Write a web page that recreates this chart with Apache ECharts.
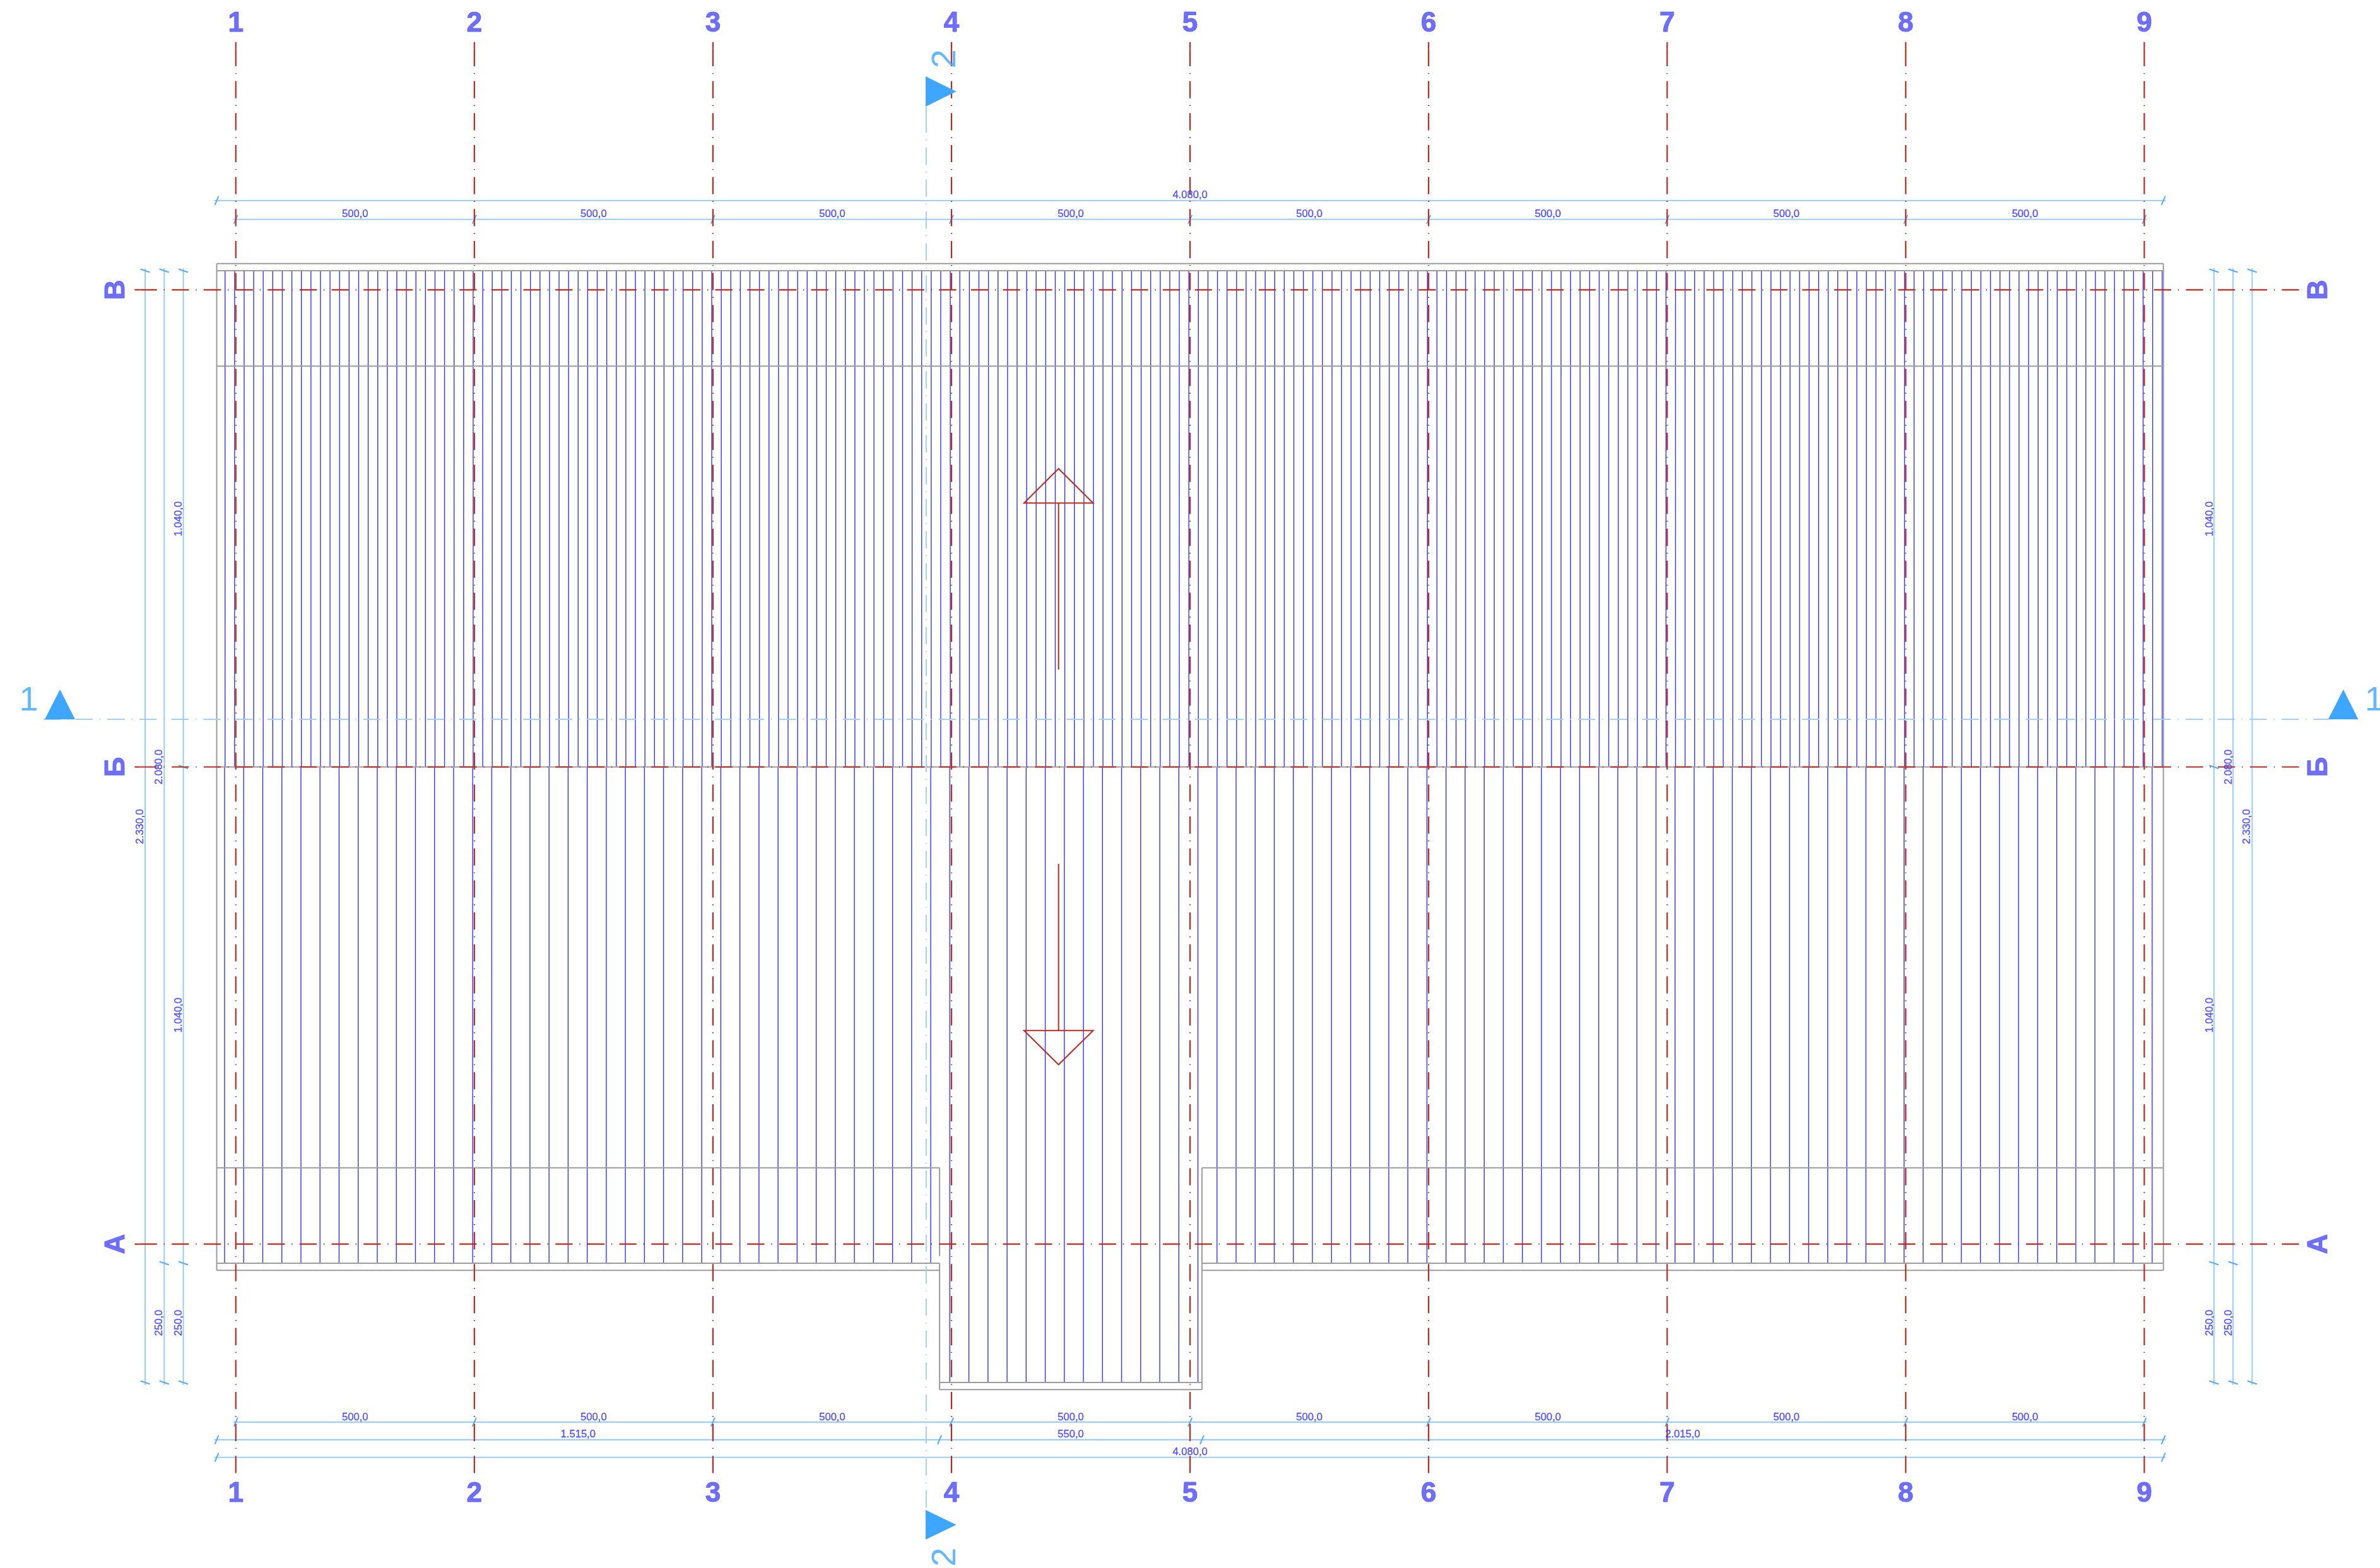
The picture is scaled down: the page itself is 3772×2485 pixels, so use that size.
<!DOCTYPE html>
<html>
<head>
<meta charset="utf-8">
<style>html,body{margin:0;padding:0;background:#fff}#c{width:3772px;height:2485px}</style>
<script src="https://cdn.jsdelivr.net/npm/echarts@6/dist/echarts.min.js"></script>
</head>
<body>
<div id="c"></div>
<script>
// ---- drawing extents (units of the drawing) ----
const xRange = [-494.2, 4494];
const yRange = [-678.8, 2607.4];

// ---- axes of the building ----
const gridX = [0, 500, 1000, 1500, 2000, 2500, 3000, 3500, 4000];
const gridXLabels = ['1', '2', '3', '4', '5', '6', '7', '8', '9'];
const gridY = [2000, 1000, 0];
const gridYLabels = ['В', 'Б', 'А'];

// ---- rafters ----
const upperRafters = [-22.5,-2.5,17.5,37.5,57.5,77.5,97.5,117.5,137.5,157.5,177.5,197.5,217.5,237.5,257.5,277.5,297.5,317.5,337.5,357.5,377.5,397.5,417.5,437.5,457.5,477.5,497.5,517.5,537.5,557.5,577.5,597.5,617.5,637.5,657.5,677.5,697.5,717.5,737.5,757.5,777.5,797.5,817.5,837.5,857.5,877.5,897.5,917.5,937.5,957.5,977.5,997.5,1017.5,1037.5,1057.5,1077.5,1097.5,1117.5,1137.5,1157.5,1177.5,1197.5,1217.5,1237.5,1257.5,1277.5,1297.5,1317.5,1337.5,1357.5,1377.5,1397.5,1417.5,1437.5,1457.5,1477.5,1497.5,1517.5,1537.5,1557.5,1577.5,1597.5,1617.5,1637.5,1657.5,1677.5,1697.5,1717.5,1737.5,1757.5,1777.5,1797.5,1817.5,1837.5,1857.5,1877.5,1897.5,1917.5,1937.5,1957.5,1977.5,1997.5,2017.5,2037.5,2057.5,2077.5,2097.5,2117.5,2137.5,2157.5,2177.5,2197.5,2217.5,2237.5,2257.5,2277.5,2297.5,2317.5,2337.5,2357.5,2377.5,2397.5,2417.5,2437.5,2457.5,2477.5,2497.5,2517.5,2537.5,2557.5,2577.5,2597.5,2617.5,2637.5,2657.5,2677.5,2697.5,2717.5,2737.5,2757.5,2777.5,2797.5,2817.5,2837.5,2857.5,2877.5,2897.5,2917.5,2937.5,2957.5,2977.5,2997.5,3017.5,3037.5,3057.5,3077.5,3097.5,3117.5,3137.5,3157.5,3177.5,3197.5,3217.5,3237.5,3257.5,3277.5,3297.5,3317.5,3337.5,3357.5,3377.5,3397.5,3417.5,3437.5,3457.5,3477.5,3497.5,3517.5,3537.5,3557.5,3577.5,3597.5,3617.5,3637.5,3657.5,3677.5,3697.5,3717.5,3737.5,3757.5,3777.5,3797.5,3817.5,3837.5,3857.5,3877.5,3897.5,3917.5,3937.5,3957.5,3977.5,3997.5,4017.5,4037.5];
const lowerRafters = [-23.5,16.5,56.5,96.5,136.5,176.5,216.5,256.5,296.5,336.5,376.5,416.5,456.5,496.5,536.5,576.5,616.5,656.5,696.5,736.5,776.5,816.5,856.5,896.5,936.5,976.5,1016.5,1056.5,1096.5,1136.5,1176.5,1216.5,1256.5,1296.5,1336.5,1376.5,1416.5,1456.5,2056.5,2096.5,2136.5,2176.5,2216.5,2256.5,2296.5,2336.5,2376.5,2416.5,2456.5,2496.5,2536.5,2576.5,2616.5,2656.5,2696.5,2736.5,2776.5,2816.5,2856.5,2896.5,2936.5,2976.5,3016.5,3056.5,3096.5,3136.5,3176.5,3216.5,3256.5,3296.5,3336.5,3376.5,3416.5,3456.5,3496.5,3536.5,3576.5,3616.5,3656.5,3696.5,3736.5,3776.5,3816.5,3856.5,3896.5,3936.5,3976.5,4016.5];
const bayRafters = [1496.5,1536.5,1576.5,1616.5,1656.5,1696.5,1736.5,1776.5,1816.5,1856.5,1896.5,1936.5,1976.5,2016.5];

// ---- outline of the roof: [x1, y1, x2, y2] ----
const outline = [
  [-40,2055,4040,2055],[-40,2040,4040,2040],[-40,1840,4040,1840],[-40,1000,4040,1000],
  [-40,2055,-40,-55],[4040,2055,4040,-55],
  [-40,160,1475,160],[2025,160,4040,160],
  [-40,-40,1475,-40],[2025,-40,4040,-40],
  [-40,-55,1475,-55],[2025,-55,4040,-55],
  [1475,160,1475,-25],[1475,-40,1475,-305],[2025,160,2025,-305],
  [1475,-290,2025,-290],[1475,-305,2025,-305]
];

// ---- dimension lines: [x1, y1, x2, y2] ----
const dimLines = [
  [-45,2187,4045,2187],[-5,2147.6,4005,2147.6],
  [-5,-373,4005,-373],[-45,-410,4045,-410],[-45,-447,4045,-447],
  [-190,2045,-190,-295],[-150,2045,-150,-295],[-110,2045,-110,-295],
  [4146,2045,4146,-295],[4186,2045,4186,-295],[4226,2045,4226,-295]
];
const dimTicksHoriz = [
  [-40,2187],[4040,2187],
  [0,2147.6],[500,2147.6],[1000,2147.6],[1500,2147.6],[2000,2147.6],[2500,2147.6],[3000,2147.6],[3500,2147.6],[4000,2147.6],
  [0,-373],[500,-373],[1000,-373],[1500,-373],[2000,-373],[2500,-373],[3000,-373],[3500,-373],[4000,-373],
  [-40,-410],[1475,-410],[2025,-410],[4040,-410],
  [-40,-447],[4040,-447]
];
const dimTicksVert = [
  [-190,2040],[-190,-290],
  [-150,2040],[-150,-40],[-150,-290],
  [-110,2040],[-110,1000],[-110,-40],[-110,-290],
  [4146,2040],[4146,1000],[4146,-40],[4146,-290],
  [4186,2040],[4186,-40],[4186,-290],
  [4226,2040],[4226,-290]
];
const dimTextHoriz = [
  ['500,0',250,2158.7],['500,0',750,2158.7],['500,0',1250,2158.7],['500,0',1750,2158.7],['500,0',2250,2158.7],['500,0',2750,2158.7],['500,0',3250,2158.7],['500,0',3750,2158.7],
  ['4.080,0',2000,2198],
  ['500,0',250,-362.7],['500,0',750,-362.7],['500,0',1250,-362.7],['500,0',1750,-362.7],['500,0',2250,-362.7],['500,0',2750,-362.7],['500,0',3250,-362.7],['500,0',3750,-362.7],
  ['1.515,0',717.5,-399],['550,0',1750,-399],['2.015,0',3032.5,-399],
  ['4.080,0',2000,-436]
];
const dimTextVert = [
  ['2.330,0',-200,875],['2.080,0',-160,1000],['1.040,0',-120,1520],['1.040,0',-120,480],['250,0',-160,-165],['250,0',-120,-165],
  ['1.040,0',4137,1520],['1.040,0',4137,480],['250,0',4137,-165],['250,0',4177,-165],['2.080,0',4177,1000],['2.330,0',4216,875]
];

// ---- sections ----
const sectionLines = [[-403,1100,4385.5,1100],[1447,2365.4,1447,-557]];
const sectionStubs = [[1447,2384,1447,2365.4]];
const sectionMarks = [
  [-400.3,1099.8,-336.8,1099.8,-368.5,1162.4],
  [4385.5,1099.8,4448.6,1099.8,4417.2,1162.4],
  [1445.8,2447.4,1445.8,2384,1510,2415.7],
  [1445.8,-557.1,1445.8,-619.3,1510,-588.2]
];
const sectionTextH = [['1',-434,1138],['1',4482,1138]];
const sectionTextV = [['2',1488,2484],['2',1488,-656]];

// ---- slope arrows ----
const arrowStems = [[1724.4,1553,1724.4,1204.3],[1724.4,797,1724.4,447.5]];
const arrowHeads = [
  [1652.1,1553,1796.9,1553,1724.4,1625.2],
  [1652.1,447.5,1796.9,447.5,1724.4,376.1]
];

// ---- extents of the axis lines ----
const axisXTop = 2504.5, axisXTopStub = 2519.2, axisXBottom = -485.7;
const axisYLeft = -201.3, axisYLeftStub = -212, axisYRight = 4327;
const labelYTop = 2557, labelYBottom = -524, labelXLeft = -250, labelXRight = 4367;

// ---- build segments from the lists ----
const upperSegs = upperRafters.map(x => [x, 2040, x, 1000]);
const lowerSegs = lowerRafters.map(x => [x, 1000, x, -40]);
const baySegs = bayRafters.map(x => [x, 1000, x, -290]);
const axisVSegs = gridX.map(x => [x, axisXTop, x, axisXBottom]);
const axisVStubs = gridX.map(x => [x, axisXTopStub, x, axisXTop]);
const axisHSegs = gridY.map(y => [axisYLeft, y, axisYRight, y]);
const axisHStubs = gridY.map(y => [axisYLeftStub, y, axisYLeft, y]);

const centerDash = [27.3, 10.8, 1.4, 11.17];
const RED = '#bc2a20', BLUE = '#3434ff', GRAY = '#9c9c9c', SECT = '#a0d1ff', DIM = '#8fc8ff', TICK = '#55aaff', MARK = '#3fa6ff';

function segSeries(name, data, style) {
  return {
    type: 'custom', name, data, silent: true, animation: false, clip: false,
    encode: { x: [0, 2], y: [1, 3] },
    renderItem: (p, api) => {
      const a = api.coord([api.value(0), api.value(1)]);
      const b = api.coord([api.value(2), api.value(3)]);
      return { type: 'line', shape: { x1: a[0], y1: a[1], x2: b[0], y2: b[1] }, style: Object.assign({ fill: null }, style) };
    }
  };
}
function tickSeries(name, data, dx, dy) {
  return {
    type: 'custom', name, data, silent: true, animation: false, clip: false,
    encode: { x: 0, y: 1 },
    renderItem: (p, api) => {
      const c = api.coord([api.value(0), api.value(1)]);
      return { type: 'line', shape: { x1: c[0] - dx, y1: c[1] - dy, x2: c[0] + dx, y2: c[1] + dy },
        style: { stroke: TICK, lineWidth: 2, fill: null } };
    }
  };
}
function triSeries(name, data, style) {
  return {
    type: 'custom', name, data, silent: true, animation: false, clip: false,
    encode: { x: [0, 2, 4], y: [1, 3, 5] },
    renderItem: (p, api) => {
      const pts = [0, 2, 4].map(i => api.coord([api.value(i), api.value(i + 1)]));
      return { type: 'polygon', shape: { points: pts }, style };
    }
  };
}
function textSeries(name, rows, font) {
  return {
    type: 'scatter', name, silent: true, animation: false, clip: false,
    symbolSize: 1, itemStyle: { color: 'rgba(0,0,0,0)' },
    data: rows.map(r => ({ name: r[0], value: [r[1], r[2]] })),
    label: Object.assign({ show: true, position: 'inside', formatter: '{b}', align: 'center', verticalAlign: 'middle',
      fontFamily: 'Liberation Sans' }, font),
    labelLayout: { hideOverlap: false }
  };
}

const dimFont = { fontSize: 16.6, color: '#2f2fff', textBorderColor: '#2f2fff', textBorderWidth: 0.35 };
const bigFont = { fontSize: 44, fontWeight: 'bold', color: '#4c4cff', textBorderColor: '#4c4cff', textBorderWidth: 1 };
const sectFont = { fontSize: 54, color: '#3fa6ff' };

const chart = echarts.init(document.getElementById('c'), null, { renderer: 'canvas' });
chart.setOption({
  animation: false,
  backgroundColor: '#ffffff',
  grid: { left: 0, right: 0, top: 0, bottom: 0 },
  xAxis: { type: 'value', min: xRange[0], max: xRange[1], show: false, splitLine: { show: false } },
  yAxis: { type: 'value', min: yRange[0], max: yRange[1], show: false, splitLine: { show: false } },
  tooltip: { show: false },
  series: [
    segSeries('Upper rafters', upperSegs, { stroke: BLUE, lineWidth: 1.4 }),
    segSeries('Lower rafters', lowerSegs, { stroke: BLUE, lineWidth: 1.4 }),
    segSeries('Bay rafters', baySegs, { stroke: BLUE, lineWidth: 1.4 }),
    segSeries('Outline', outline, { stroke: GRAY, lineWidth: 2 }),
    segSeries('Section lines', sectionLines, { stroke: SECT, lineWidth: 2, lineDash: centerDash }),
    segSeries('Section stubs', sectionStubs, { stroke: SECT, lineWidth: 2 }),
    segSeries('Dimension lines', dimLines, { stroke: DIM, lineWidth: 1.8 }),
    tickSeries('Dimension ticks H', dimTicksHoriz, 3, -7),
    tickSeries('Dimension ticks V', dimTicksVert, 7.5, 2.5),
    segSeries('Axes vertical', axisVSegs, { stroke: RED, lineWidth: 2.2, lineDash: centerDash }),
    segSeries('Axes vertical stubs', axisVStubs, { stroke: RED, lineWidth: 2.2 }),
    segSeries('Axes horizontal', axisHSegs, { stroke: RED, lineWidth: 2.2, lineDash: centerDash }),
    segSeries('Axes horizontal stubs', axisHStubs, { stroke: RED, lineWidth: 2.2 }),
    segSeries('Slope arrow stems', arrowStems, { stroke: RED, lineWidth: 2 }),
    triSeries('Slope arrow heads', arrowHeads, { stroke: RED, lineWidth: 2, fill: null }),
    triSeries('Section marks', sectionMarks, { fill: MARK }),
    textSeries('Dimension text H', dimTextHoriz, dimFont),
    textSeries('Dimension text V', dimTextVert, Object.assign({ rotate: 90 }, dimFont)),
    textSeries('Axis labels top', gridXLabels.map((t, i) => [t, gridX[i], labelYTop]), bigFont),
    textSeries('Axis labels bottom', gridXLabels.map((t, i) => [t, gridX[i], labelYBottom]), bigFont),
    textSeries('Axis labels left', gridYLabels.map((t, i) => [t, labelXLeft, gridY[i]]), Object.assign({ rotate: 90 }, bigFont)),
    textSeries('Axis labels right', gridYLabels.map((t, i) => [t, labelXRight, gridY[i]]), Object.assign({ rotate: 90 }, bigFont)),
    textSeries('Section numbers H', sectionTextH, sectFont),
    textSeries('Section numbers V', sectionTextV, Object.assign({ rotate: 90 }, sectFont))
  ]
});
</script>
</body>
</html>
